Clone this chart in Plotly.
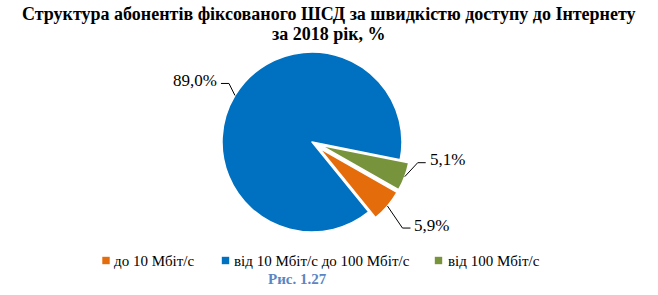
import math
import plotly.graph_objects as go

# ---- data ----
categories = ["до 10 Мбіт/с", "від 10 Мбіт/с до 100 Мбіт/с", "від 100 Мбіт/с"]
values = [5.9, 89.0, 5.1]
title_lines = ["Структура абонентів фіксованого ШСД за швидкістю доступу до Інтернету",
               "за 2018 рік, %"]
caption = "Рис. 1.27"

# ---- style ----
W, H = 658, 295
colors = ["#E46C0A", "#0070C0", "#77933C"]
pulls = [0.1, 0.0, 0.1]
rotation = 119.7
CX, CY, R = 312, 142, 90
SERIF = "Liberation Serif, Times New Roman, serif"
# leader elbow offsets (px) relative to slice edge point
elbow = [(15, 22), (-6, -12), (13, -14)]
hlen = 8


def px(x):
    return x / W


def py(y):
    return 1 - y / H


maxpull = max(pulls)
half = R * (1 + maxpull)

fig = go.Figure()
fig.add_trace(go.Pie(
    labels=categories, values=values, sort=False, direction="clockwise",
    rotation=rotation, pull=pulls, textinfo="none", hoverinfo="label+percent",
    marker=dict(colors=colors, line=dict(color="white", width=1.5)),
    domain=dict(x=[px(CX - half), px(CX + half)], y=[py(CY + half), py(CY - half)]),
    showlegend=False,
))

shapes = []
annotations = []
total = sum(values)
cum = 0.0
for i, v in enumerate(values):
    a0 = rotation + 360 * cum / total
    mid = math.radians(a0 + 180 * v / total)
    cum += v
    ux, uy = math.sin(mid), -math.cos(mid)
    ex = CX + (R + pulls[i] * R) * ux
    ey = CY + (R + pulls[i] * R) * uy
    bx, by = ex + elbow[i][0], ey + elbow[i][1]
    side = 1 if ux >= 0 else -1
    hx = bx + side * hlen
    shapes.append(dict(type="path", xref="paper", yref="paper",
                       path=f"M {px(ex)},{py(ey)} L {px(bx)},{py(by)} L {px(hx)},{py(by)}",
                       line=dict(color="#000000", width=1)))
    txt = f"{v:.1f}".replace(".", ",") + "%"
    annotations.append(dict(text=txt, x=px(hx + side * 2), y=py(by - 3), xref="paper", yref="paper",
                            xanchor="left" if side > 0 else "right", yanchor="middle",
                            showarrow=False, font=dict(family=SERIF, size=17, color="#000000")))

# title
for j, line in enumerate(title_lines):
    annotations.append(dict(text=f"<b>{line}</b>", x=px(329), y=py(14 + 20 * j), xref="paper", yref="paper",
                            xanchor="center", yanchor="middle", showarrow=False,
                            font=dict(family=SERIF, size=18, color="#000000")))

# legend
leg_sq = [106, 225.5, 438.5]
leg_tx = [112, 232, 446]
leg_y = 261
sq = 3.7
for i, lab in enumerate(categories):
    shapes.append(dict(type="rect", xref="paper", yref="paper",
                       x0=px(leg_sq[i] - sq), x1=px(leg_sq[i] + sq),
                       y0=py(leg_y - 0.5 + sq), y1=py(leg_y - 0.5 - sq),
                       fillcolor=colors[i], line=dict(width=0)))
    annotations.append(dict(text=lab, x=px(leg_tx[i]), y=py(leg_y), xref="paper", yref="paper",
                            xanchor="left", yanchor="middle", showarrow=False,
                            font=dict(family=SERIF, size=15, color="#000000")))

annotations.append(dict(text=f"<b>{caption}</b>", x=px(297), y=py(279), xref="paper", yref="paper",
                        xanchor="center", yanchor="middle", showarrow=False,
                        font=dict(family=SERIF, size=15, color="#5B86C5")))

fig.update_layout(width=W, height=H, margin=dict(l=0, r=0, t=0, b=0),
                  paper_bgcolor="white", plot_bgcolor="white",
                  shapes=shapes, annotations=annotations)
fig.write_html("out.html")
